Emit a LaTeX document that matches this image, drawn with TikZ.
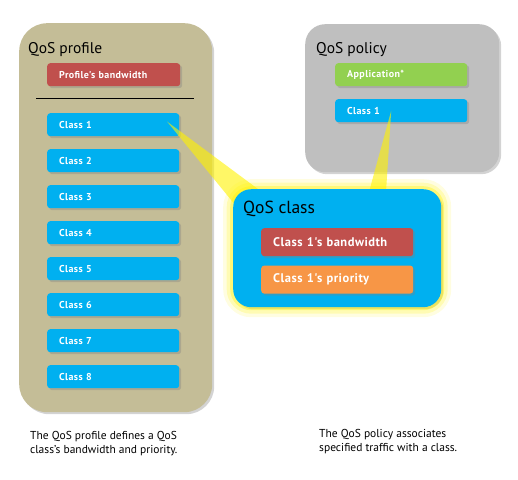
\documentclass[tikz,border=0pt]{standalone}
\usepackage{fontspec}
\setmainfont{PT Sans}
\newfontfamily\tagfont[LetterSpace=4]{PT Sans}
\usetikzlibrary{positioning,shadows,calc}

\definecolor{profiletan}{RGB}{196,189,151}
\definecolor{policygray}{RGB}{191,191,191}
\definecolor{classblue}{RGB}{0,176,240}
\definecolor{bwred}{RGB}{192,80,77}
\definecolor{appgreen}{RGB}{146,208,80}
\definecolor{prioorange}{RGB}{247,150,70}

\tikzset{
  softshadow/.style={drop shadow={shadow xshift=2pt,shadow yshift=-2pt,opacity=0.35}},
  panel/.style={fill=#1,anchor=north west,inner sep=0pt,softshadow},
  tag/.style={fill=#1,text=white,anchor=north west,rounded corners=3pt,
    inner xsep=12pt,inner ysep=0pt,minimum height=23pt,text width=108pt,
    align=left,font=\tagfont\bfseries\fontsize{10}{11}\selectfont,softshadow},
  bigtag/.style={tag=#1,minimum height=28pt,text width=128pt,
    font=\tagfont\bfseries\fontsize{12.5}{13}\selectfont},
  title/.style={anchor=base west,inner sep=0pt,font=\fontsize{#1}{#1}\selectfont},
  beam/.style={fill=yellow,opacity=0.6,draw=none},
  caption/.style={anchor=north west,inner sep=0pt,align=left,font=\fontsize{11.5}{14}\selectfont}
}

\begin{document}
\begin{tikzpicture}[x=1pt,y=-1pt]
  \useasboundingbox (0,0) rectangle (518,479);

  % profile side
  \node[panel=profiletan,rounded corners=28pt,minimum width=193pt,minimum height=389pt] (profile) at (19,23) {};
  \node[title=15.5] (profiletitle) at (28,53) {QoS profile};
  \node[tag=bwred,minimum width=133pt,text width=109pt] (pbw) at (47,63) {Profile's bandwidth};
  \draw (36,98) -- (194,98);
  \node[tag=classblue] (c1) at (47,113) {Class 1};
  \node[tag=classblue] (c2) [below=12.6pt of c1.south west,anchor=north west] {Class 2};
  \node[tag=classblue] (c3) [below=12.6pt of c2.south west,anchor=north west] {Class 3};
  \node[tag=classblue] (c4) [below=12.6pt of c3.south west,anchor=north west] {Class 4};
  \node[tag=classblue] (c5) [below=12.6pt of c4.south west,anchor=north west] {Class 5};
  \node[tag=classblue] (c6) [below=12.6pt of c5.south west,anchor=north west] {Class 6};
  \node[tag=classblue] (c7) [below=12.6pt of c6.south west,anchor=north west] {Class 7};
  \node[tag=classblue] (c8) [below=12.6pt of c7.south west,anchor=north west] {Class 8};

  % policy side
  \node[panel=policygray,rounded corners=20pt,minimum width=194pt,minimum height=148pt] (policy) at (305,24) {};
  \node[title=15.5] (policytitle) at (316,53) {QoS policy};
  \node[tag=appgreen] (app) at (335,63) {Application*};
  \node[tag=classblue] (pc1) at (335,99) {Class 1};

  % beams
  \coordinate (qcnw) at (233,189);
  \fill[beam] ($(c1.center)+(54,-3)$) -- ($(qcnw)+(29,3)$) -- ($(qcnw)+(3,17)$) -- cycle;
  \fill[beam] ($(pc1.center)+(-10,0)$) -- ($(qcnw)+(153,3)$) -- ($(qcnw)+(136,3)$) -- cycle;

  % class
  \node[panel=classblue,rounded corners=18pt,minimum width=208pt,minimum height=118pt,
    preaction={draw=yellow,line width=20pt,opacity=0.12},
    preaction={draw=yellow,line width=13pt,opacity=0.2},
    preaction={draw=yellow,line width=6pt,opacity=0.35}] (qc) at (qcnw) {};
  \node[title=17.5] (qctitle) at (243,213) {QoS class};
  \node[bigtag=bwred] (qbw) at (261,228) {Class 1's bandwidth};
  \node[bigtag=prioorange] (qprio) [below=9pt of qbw.south west,anchor=north west] {Class 1's priority};

  % captions
  \node[caption] (profilenote) at (30,431) {The QoS profile defines a QoS\\class's bandwidth and priority.};
  \node[caption] (policynote) at (319,429) {The QoS policy associates\\specified traffic with a class.};
\end{tikzpicture}
\end{document}
